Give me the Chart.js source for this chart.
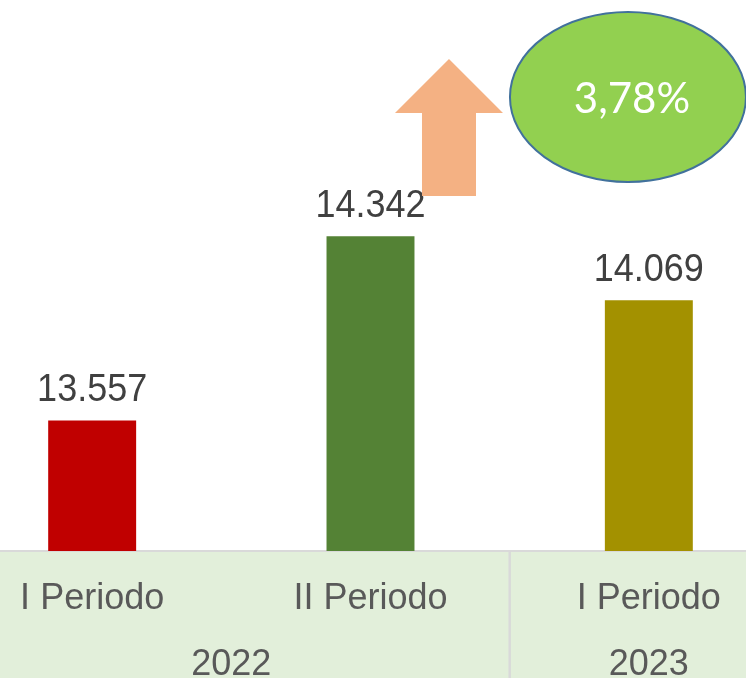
<!DOCTYPE html>
<html>
<head>
<meta charset="utf-8">
<script src="https://cdn.jsdelivr.net/npm/chart.js@4.4.1/dist/chart.umd.min.js"></script>
<style>
  html, body { margin: 0; padding: 0; background: #ffffff; overflow: hidden; width: 746px; height: 678px; }
  #wrap { position: absolute; left: -47px; top: 0; width: 835px; height: 700px; }
</style>
</head>
<body>
<div id="wrap"><canvas id="c"></canvas></div>
<script>
// ---- data ----
const categories = ['I Periodo', 'II Periodo', 'I Periodo'];
const values = [13557, 14342, 14069];
const barColors = ['#C00000', '#548235', '#A39100'];
const groups = [
  { label: '2022', from: 0, to: 1 },
  { label: '2023', from: 2, to: 2 }
];
const yMin = 13000;
const yMax = 15350;

function fmt(v) { return String(v).replace(/\B(?=(\d{3})+(?!\d))/g, '.'); }
const pct = ((values[2] - values[0]) / values[0] * 100).toFixed(2).replace('.', ',') + '%';

const decoPlugin = {
  id: 'deco',
  beforeDraw(chart) {
    const { ctx, chartArea, scales } = chart;
    const x = scales.x;
    ctx.save();
    ctx.fillStyle = '#E2EFDA';
    ctx.fillRect(x.left, chartArea.bottom, x.right - x.left, chart.height - chartArea.bottom);
    ctx.restore();
  },
  afterDraw(chart) {
    const { ctx, chartArea, scales } = chart;
    const x = scales.x;
    const catW = (x.right - x.left) / categories.length;
    ctx.save();
    // group separators
    ctx.strokeStyle = '#D9D9D9';
    ctx.lineWidth = 2;
    groups.forEach(g => {
      [x.getPixelForValue(g.from) - catW / 2, x.getPixelForValue(g.to) + catW / 2].forEach(px => {
        ctx.beginPath();
        ctx.moveTo(px, chartArea.bottom);
        ctx.lineTo(px, chart.height);
        ctx.stroke();
      });
    });
    // group labels
    ctx.fillStyle = '#595959';
    ctx.font = '36px "Liberation Sans", Arial, sans-serif';
    ctx.textAlign = 'center';
    ctx.textBaseline = 'alphabetic';
    groups.forEach(g => {
      const cx = (x.getPixelForValue(g.from) + x.getPixelForValue(g.to)) / 2;
      ctx.fillText(g.label, cx, chartArea.bottom + 124);
    });
    // data labels (slightly stretched vertically like the original)
    const meta = chart.getDatasetMeta(0);
    ctx.fillStyle = '#404040';
    meta.data.forEach((bar, i) => {
      ctx.save();
      ctx.translate(bar.x, bar.y - 19);
      ctx.scale(1, 1.08);
      ctx.fillText(fmt(values[i]), 0, 0);
      ctx.restore();
    });
    // up arrow
    const ax = x.getPixelForValue(1) + 0.282 * catW;
    ctx.fillStyle = '#F4B183';
    ctx.beginPath();
    ctx.moveTo(ax, 59);
    ctx.lineTo(ax + 54, 113);
    ctx.lineTo(ax + 27, 113);
    ctx.lineTo(ax + 27, 196);
    ctx.lineTo(ax - 27, 196);
    ctx.lineTo(ax - 27, 113);
    ctx.lineTo(ax - 54, 113);
    ctx.closePath();
    ctx.fill();
    // ellipse
    const ex = x.getPixelForValue(2) - 0.075 * catW;
    ctx.beginPath();
    ctx.ellipse(ex, 97, 118, 85, 0, 0, Math.PI * 2);
    ctx.fillStyle = '#92D050';
    ctx.fill();
    ctx.strokeStyle = '#41719C';
    ctx.lineWidth = 2;
    ctx.stroke();
    ctx.fillStyle = '#FFFFFF';
    ctx.font = '42px Lato, "Open Sans", sans-serif';
    ctx.textBaseline = 'middle';
    ctx.fillText(pct, ex + 4, 99);
    ctx.restore();
  }
};

new Chart(document.getElementById('c'), {
  type: 'bar',
  data: {
    labels: categories,
    datasets: [{
      data: values,
      backgroundColor: barColors,
      borderWidth: 0,
      barPercentage: 0.316,
      categoryPercentage: 1
    }]
  },
  options: {
    responsive: true,
    maintainAspectRatio: false,
    animation: false,
    layout: { padding: 0 },
    plugins: { legend: { display: false }, tooltip: { enabled: false } },
    scales: {
      x: {
        grid: { display: false },
        border: { display: true, color: '#D9D9D9', width: 2 },
        ticks: {
          color: '#595959',
          font: { family: '"Liberation Sans", Arial, sans-serif', size: 36 },
          padding: 18,
          maxRotation: 0,
          autoSkip: false
        },
        afterFit(scale) { scale.height = 149; }
      },
      y: {
        display: false,
        min: yMin,
        max: yMax
      }
    }
  },
  plugins: [decoPlugin]
});
</script>
</body>
</html>
